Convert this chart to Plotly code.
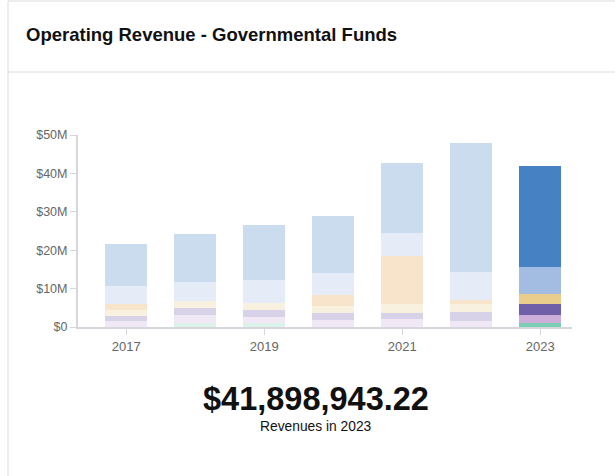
import plotly.graph_objects as go

# Fiscal years shown on the chart
years = [2017, 2018, 2019, 2020, 2021, 2022, 2023]

# Revenue by source, in dollars (stacked bottom to top)
src_teal = [0.0, 1.1e6, 1.0e6, 0.0, 0.0, 0.0, 1.15e6]
src_lilac = [1.5e6, 1.9e6, 1.65e6, 1.7e6, 2.0e6, 1.5e6, 1.85e6]
src_purple = [1.4e6, 2.0e6, 1.9e6, 2.0e6, 1.7e6, 2.3e6, 2.9e6]
src_gold = [1.4e6, 1.8e6, 1.8e6, 1.8e6, 2.2e6, 2.2e6, 2.6e6]
src_orange = [1.65e6, 0.0, 0.0, 2.8e6, 12.6e6, 1.0e6, 0.0]
src_skyblue = [4.7e6, 4.8e6, 5.8e6, 5.7e6, 6.0e6, 7.3e6, 7.1e6]
src_blue = [11.0e6, 12.7e6, 14.5e6, 15.0e6, 18.1e6, 33.5e6, 26.29894322e6]

# Y axis ticks
tick_vals = [0, 10e6, 20e6, 30e6, 40e6, 50e6]
tick_text = ["$0", "$10M", "$20M", "$30M", "$40M", "$50M"]

selected_year = 2023
headline_total = 41898943.22

series = [
    ("Source 1", src_teal, "#7ccfb4"),
    ("Source 2", src_lilac, "#cdaedb"),
    ("Source 3", src_purple, "#6f5ea8"),
    ("Source 4", src_gold, "#e8cd8c"),
    ("Source 5", src_orange, "#e69a45"),
    ("Source 6", src_skyblue, "#a3bce2"),
    ("Source 7", src_blue, "#4682c3"),
]

W, H = 615, 476
FONT = "Liberation Sans, Arial, Helvetica, sans-serif"

# plot area placement in pixels
px_left, px_right, px_top, px_bottom = 78, 572, 135, 327

opac = [1.0 if y == selected_year else 0.28 for y in years]

fig = go.Figure()
for name, vals, color in series:
    fig.add_trace(go.Bar(
        x=years, y=vals, name=name,
        marker=dict(color=color, opacity=opac, line=dict(width=0)),
        hovertemplate="%{x}: $%{y:,.2f}<extra>" + name + "</extra>",
    ))

axis_col = "#d6d6dc"
fig.update_layout(
    width=W, height=H,
    margin=dict(l=0, r=0, t=0, b=0, pad=0, autoexpand=False),
    paper_bgcolor="white", plot_bgcolor="white",
    barmode="stack", bargap=0.39,
    showlegend=False,
    font=dict(family=FONT, color="#666666", size=13),
    xaxis=dict(
        domain=[px_left / W, px_right / W],
        range=[2016.30, 2023.46],
        tickvals=[2017, 2019, 2021, 2023],
        ticktext=["2017", "2019", "2021", "2023"],
        showgrid=False, zeroline=False, automargin=False,
        showline=True, linecolor=axis_col, linewidth=2,
        ticks="outside", ticklen=6, tickcolor=axis_col, tickwidth=1,
        tickfont=dict(size=13, color="#666666"),
        fixedrange=True,
    ),
    yaxis=dict(
        domain=[1 - px_bottom / H, 1 - px_top / H],
        range=[0, 50e6],
        tickvals=tick_vals, ticktext=tick_text,
        showgrid=False, zeroline=False, automargin=False,
        showline=True, linecolor=axis_col, linewidth=2,
        ticks="outside", ticklen=6, tickcolor=axis_col, tickwidth=1,
        tickfont=dict(size=12.5, color="#666666"),
        fixedrange=True,
    ),
    shapes=[
        # card outline
        dict(type="rect", xref="paper", yref="paper",
             x0=8 / W, x1=1.01, y0=-0.01, y1=1 - 1 / H,
             line=dict(color="#dcdce2", width=1), fillcolor="rgba(0,0,0,0)",
             layer="below"),
        # header divider
        dict(type="line", xref="paper", yref="paper",
             x0=8 / W, x1=1.01, y0=1 - 72 / H, y1=1 - 72 / H,
             line=dict(color="#dcdce2", width=1)),
    ],
    annotations=[
        dict(text="<b>Operating Revenue - Governmental Funds</b>",
             xref="paper", yref="paper", x=24 / W, y=1 - 35 / H,
             xanchor="left", yanchor="middle", showarrow=False,
             font=dict(family=FONT, size=18.5, color="#111111")),
        dict(text="<b>${:,.2f}</b>".format(headline_total),
             xref="paper", yref="paper", x=316 / W, y=1 - 399 / H,
             xanchor="center", yanchor="middle", showarrow=False,
             font=dict(family=FONT, size=32.5, color="#111111")),
        dict(text="Revenues in {}".format(selected_year),
             xref="paper", yref="paper", x=316 / W, y=1 - 426 / H,
             xanchor="center", yanchor="middle", showarrow=False,
             font=dict(family=FONT, size=13.8, color="#111111")),
    ],
)

fig.write_html("out.html", config={"displayModeBar": False})
